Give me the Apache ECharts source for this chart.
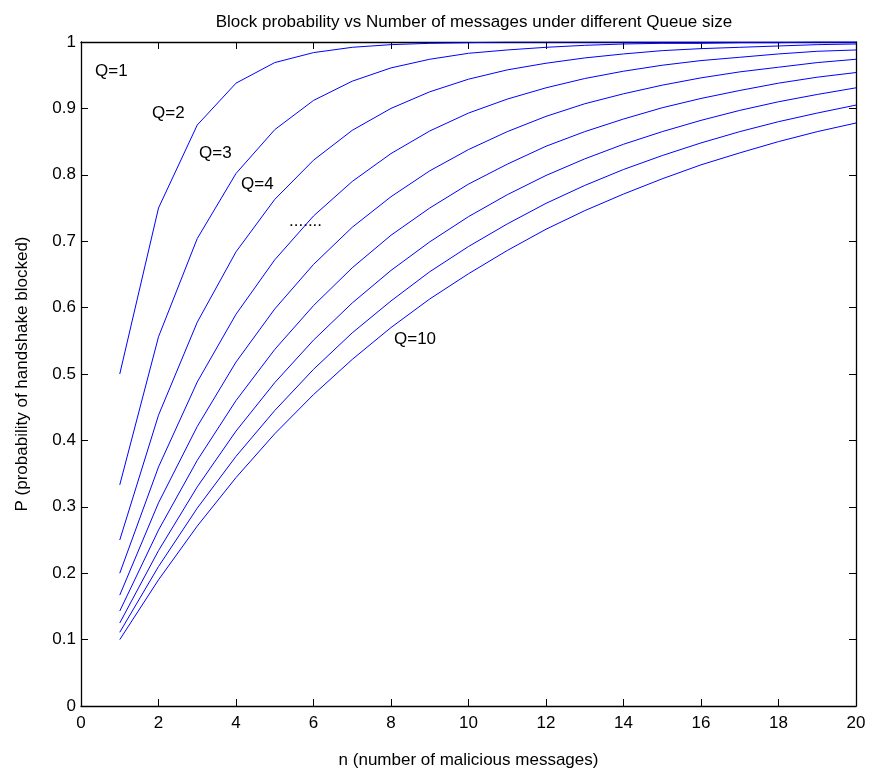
<!DOCTYPE html>
<html><head><meta charset="utf-8">
<script src="https://cdn.jsdelivr.net/npm/echarts@6/dist/echarts.min.js"></script>
<style>html,body{margin:0;padding:0;background:#fff}#c{width:869px;height:777px}</style>
</head><body><div id="c"></div>
<script>
const nValues = [1,2,3,4,5,6,7,8,9,10,11,12,13,14,15,16,17,18,19,20];
const q1 = [0.500,0.750,0.875,0.938,0.969,0.984,0.992,0.996,0.998,0.999,1.000,1.000,1.000,1.000,1.000,1.000,1.000,1.000,1.000,1.000];
const q2 = [0.333,0.556,0.704,0.802,0.868,0.912,0.941,0.961,0.974,0.983,0.988,0.992,0.995,0.997,0.998,0.998,0.999,0.999,1.000,1.000];
const q3 = [0.250,0.438,0.578,0.684,0.763,0.822,0.867,0.900,0.925,0.944,0.958,0.968,0.976,0.982,0.987,0.990,0.992,0.994,0.996,0.997];
const q4 = [0.200,0.360,0.488,0.590,0.672,0.738,0.790,0.832,0.866,0.893,0.914,0.931,0.945,0.956,0.965,0.972,0.977,0.982,0.986,0.988];
const q5 = [0.167,0.306,0.421,0.518,0.598,0.665,0.721,0.767,0.806,0.838,0.865,0.888,0.907,0.922,0.935,0.946,0.955,0.962,0.969,0.974];
const q6 = [0.143,0.265,0.370,0.460,0.537,0.603,0.660,0.709,0.750,0.786,0.816,0.843,0.865,0.884,0.901,0.915,0.927,0.938,0.947,0.954];
const q7 = [0.125,0.234,0.330,0.414,0.487,0.551,0.607,0.656,0.699,0.737,0.770,0.799,0.824,0.846,0.865,0.882,0.897,0.910,0.921,0.931];
const q8 = [0.111,0.210,0.298,0.376,0.445,0.507,0.562,0.610,0.654,0.692,0.726,0.757,0.784,0.808,0.829,0.848,0.865,0.880,0.893,0.905];
const q9 = [0.100,0.190,0.271,0.344,0.410,0.469,0.522,0.570,0.613,0.651,0.686,0.718,0.746,0.771,0.794,0.815,0.833,0.850,0.865,0.878];
const seriesList = [q1,q2,q3,q4,q5,q6,q7,q8,q9];
const curveLabels = ['Q=1','Q=2','Q=3','Q=4','.......','Q=10'];
const titleText = 'Block probability vs Number of messages under different Queue size';
const xName = 'n (number of malicious messages)';
const yName = 'P (probability of handshake blocked)';

const font = 'Liberation Sans, Arial, sans-serif';
const FS = 17;
const chart = echarts.init(document.getElementById('c'), null, {renderer:'canvas'});
const labelPos = [[95,71],[152,113],[199,153],[241,184],[289,221],[394,339]];
const axisCommon = {
  axisLine:{show:true,onZero:false,lineStyle:{color:'#000',width:1.3}},
  axisTick:{show:true,inside:true,length:7,lineStyle:{color:'#000',width:1}},
  splitLine:{show:false}
};
chart.setOption({
  animation:false,
  backgroundColor:'#fff',
  title:{text:titleText,left:469,top:9,textAlign:'center',textStyle:{fontFamily:font,fontSize:FS,fontWeight:'normal',color:'#000'}},
  grid:{left:81,top:42,right:13,bottom:71,containLabel:false},
  xAxis:[
    Object.assign({type:'value',min:0,max:20,interval:2,position:'bottom',
      axisLabel:{fontFamily:font,fontSize:FS,color:'#000',margin:9},
      name:xName,nameLocation:'middle',nameGap:46,nameTextStyle:{fontFamily:font,fontSize:FS,color:'#000'}},axisCommon),
    Object.assign({type:'value',min:0,max:20,interval:2,position:'top',axisLabel:{show:false}},axisCommon)
  ],
  yAxis:[
    Object.assign({type:'value',min:0,max:1,interval:0.1,position:'left',
      axisLabel:{fontFamily:font,fontSize:FS,color:'#000',margin:5,formatter:v=>String(Math.round(v*10)/10)},
      name:yName,nameLocation:'middle',nameGap:50,nameTextStyle:{fontFamily:font,fontSize:FS,color:'#000'}},axisCommon),
    Object.assign({type:'value',min:0,max:1,interval:0.1,position:'right',axisLabel:{show:false}},axisCommon)
  ],
  series: seriesList.map((arr,i)=>({
    type:'line',xAxisIndex:0,yAxisIndex:0,symbol:'none',smooth:false,
    lineStyle:{color:'#0000ff',width:1},
    data: nValues.map((n,j)=>[n,arr[j]])
  })),
  graphic: curveLabels.map((t,i)=>({
    type:'text',x:labelPos[i][0],y:labelPos[i][1],
    style:{text:t,fontFamily:font,fontSize:FS,fill:'#000',verticalAlign:'middle',align:'left'}
  }))
});
</script></body></html>
